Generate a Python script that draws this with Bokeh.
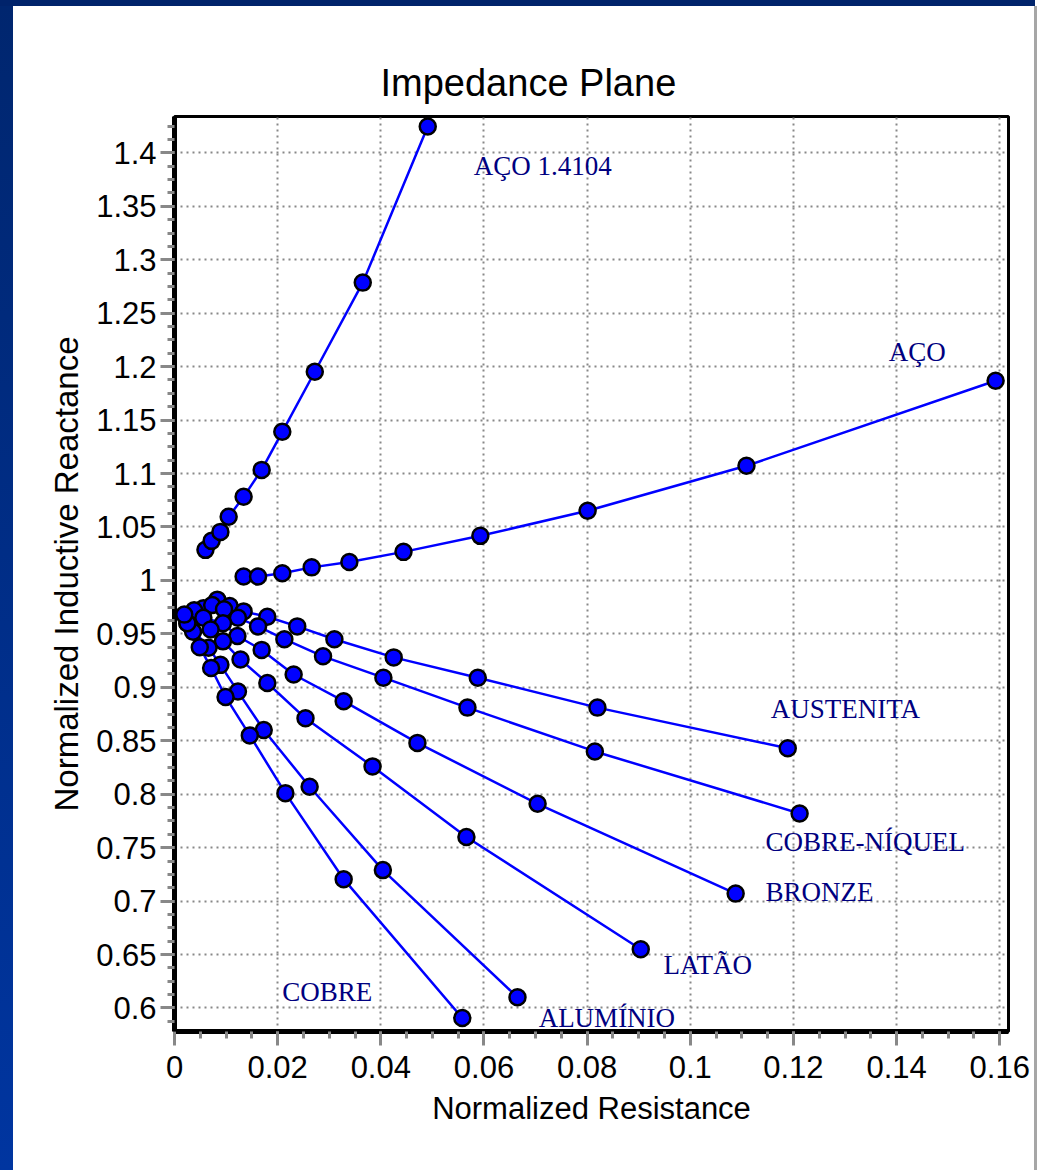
from bokeh.plotting import figure
from bokeh.models import FixedTicker, Div
from bokeh.layouts import row, column
from bokeh.embed import file_html
from bokeh.resources import INLINE
from bokeh.core.properties import value

# ---------------- data ----------------
aco14104_x = [0.0060, 0.0072, 0.0089, 0.0105, 0.0134, 0.0169, 0.0209, 0.0272, 0.0365, 0.0491]
aco14104_y = [1.0286, 1.0370, 1.0454, 1.0595, 1.0782, 1.1034, 1.1390, 1.1952, 1.2786, 1.4246]

aco_x = [0.0134, 0.0162, 0.0209, 0.0266, 0.0339, 0.0444, 0.0593, 0.0801, 0.1109, 0.1592]
aco_y = [1.0036, 1.0036, 1.0067, 1.0122, 1.0173, 1.0267, 1.0417, 1.0651, 1.1072, 1.1868]

austenita_x = [0.0056, 0.0083, 0.0107, 0.0134, 0.0180, 0.0238, 0.0310, 0.0425, 0.0588, 0.0820, 0.1189]
austenita_y = [0.974, 0.982, 0.976, 0.971, 0.966, 0.957, 0.945, 0.928, 0.909, 0.881, 0.843]

cuni_x = [0.0038, 0.0073, 0.0096, 0.0123, 0.0162, 0.0213, 0.0288, 0.0405, 0.0568, 0.0815, 0.1212]
cuni_y = [0.972, 0.977, 0.973, 0.965, 0.957, 0.945, 0.929, 0.909, 0.881, 0.840, 0.782]

bronze_x = [0.0025, 0.0056, 0.0094, 0.0122, 0.0169, 0.0231, 0.0328, 0.0471, 0.0704, 0.1088]
bronze_y = [0.960, 0.965, 0.960, 0.948, 0.935, 0.912, 0.887, 0.848, 0.791, 0.707]

latao_x = [0.0036, 0.0070, 0.0094, 0.0128, 0.0180, 0.0254, 0.0384, 0.0566, 0.0904]
latao_y = [0.952, 0.954, 0.943, 0.926, 0.904, 0.871, 0.826, 0.760, 0.655]

aluminio_x = [0.0025, 0.0066, 0.0089, 0.0123, 0.0173, 0.0262, 0.0404, 0.0665]
aluminio_y = [0.960, 0.937, 0.921, 0.896, 0.860, 0.807, 0.729, 0.610]

cobre_x = [0.0019, 0.0049, 0.0071, 0.0099, 0.0146, 0.0215, 0.0328, 0.0558]
cobre_y = [0.968, 0.9375, 0.918, 0.891, 0.855, 0.801, 0.7205, 0.5906]

label_text = ["AÇO 1.4104", "AÇO", "AUSTENITA", "COBRE-NÍQUEL", "BRONZE", "LATÃO", "ALUMÍNIO", "COBRE"]
label_x = [0.0580, 0.1385, 0.1156, 0.1146, 0.1146, 0.0948, 0.0706, 0.0209]
label_y = [1.3881, 1.2140, 0.8797, 0.7552, 0.7083, 0.6400, 0.5904, 0.6147]

x_ticks = [0, 0.02, 0.04, 0.06, 0.08, 0.1, 0.12, 0.14, 0.16]
x_tick_labels = ["0", "0.02", "0.04", "0.06", "0.08", "0.1", "0.12", "0.14", "0.16"]
y_ticks = [0.6, 0.65, 0.7, 0.75, 0.8, 0.85, 0.9, 0.95, 1.0, 1.05, 1.1, 1.15, 1.2, 1.25, 1.3, 1.35, 1.4]
y_tick_labels = ["0.6", "0.65", "0.7", "0.75", "0.8", "0.85", "0.9", "0.95", "1", "1.05", "1.1",
                 "1.15", "1.2", "1.25", "1.3", "1.35", "1.4"]

series = [
    (aco14104_x, aco14104_y), (aco_x, aco_y), (austenita_x, austenita_y), (cuni_x, cuni_y),
    (bronze_x, bronze_y), (latao_x, latao_y), (aluminio_x, aluminio_y), (cobre_x, cobre_y),
]

# ---------------- figure ----------------
p = figure(width=1021, height=1164, x_range=(0, 0.1617), y_range=(0.578, 1.434),
           output_backend="svg", toolbar_location=None,
           min_border_left=161, min_border_right=26, min_border_top=110, min_border_bottom=139,
           background_fill_color="white", border_fill_color="white")
p.margin = 0

p.title.text = "Impedance Plane"
p.title.text_font = "Liberation Sans"
p.title.text_font_size = "38px"
p.title.text_font_style = "normal"
p.title.text_color = "black"
p.title.align = "left"
p.title.offset = 206
p.title.standoff = 26

p.outline_line_color = "black"
p.outline_line_width = 3
p.outline_line_alpha = 1

xt = FixedTicker(ticks=x_ticks, minor_ticks=[i * 0.005 for i in range(33)])
yt = FixedTicker(ticks=y_ticks, minor_ticks=[0.575 + i * 0.0125 for i in range(70)])
p.xaxis.ticker = xt
p.yaxis.ticker = yt
p.xaxis.major_label_overrides = {t: l for t, l in zip(x_ticks, x_tick_labels)}
p.yaxis.major_label_overrides = {t: l for t, l in zip(y_ticks, y_tick_labels)}

for ax in (p.xaxis[0], p.yaxis[0]):
    ax.axis_line_color = "black"
    ax.axis_line_width = 5
    ax.major_tick_line_color = "#888888"
    ax.minor_tick_line_color = "#888888"
    ax.major_tick_line_width = 3
    ax.minor_tick_line_width = 3
    ax.major_tick_out = 14
    ax.major_tick_in = 0
    ax.minor_tick_out = 7
    ax.minor_tick_in = 0
    ax.major_label_text_font = "Liberation Sans"
    ax.major_label_text_font_size = "31px"
    ax.major_label_text_color = "black"
    ax.axis_label_text_font = "Liberation Sans"
    ax.axis_label_text_font_style = "normal"
    ax.axis_label_text_color = "black"

p.xaxis.axis_label_text_font_size = "31px"
p.yaxis.axis_label_text_font_size = "33px"
p.xaxis.axis_label = "Normalized Resistance"
p.yaxis.axis_label = "Normalized Inductive Reactance"
p.xaxis.major_label_standoff = 10
p.yaxis.major_label_standoff = 4
p.xaxis.axis_label_standoff = 10
p.yaxis.axis_label_standoff = 8

for g in (p.xgrid[0], p.ygrid[0]):
    g.grid_line_color = "#888888"
    g.grid_line_width = 2
    g.grid_line_dash = "2 4"

for xs, ys in series:
    p.line(xs, ys, line_color="#0000FF", line_width=2.5)
for xs, ys in series:
    p.scatter(xs, ys, size=16, fill_color="#0000FF", line_color="black", line_width=2.5)

p.text(x=label_x, y=label_y, text=label_text, text_font=value("Liberation Serif"),
       text_font_size="27px", text_color="#000080", text_align="left", text_baseline="alphabetic")

# ---------------- page frame ----------------
top_bar = Div(width=1035, height=6, margin=0,
              styles={"background-color": "#00236b"})
left_bar = Div(width=13, height=1164, margin=0,
               styles={"background": "linear-gradient(to bottom, #00266f, #0035a0)"})
grey_line = Div(width=3, height=1164, margin=0, styles={"background-color": "#a6a6a6"})

layout = column(top_bar, row(left_bar, p, grey_line, spacing=0), spacing=0)
layout.margin = 0

open("out.html", "w").write(file_html(layout, INLINE))
